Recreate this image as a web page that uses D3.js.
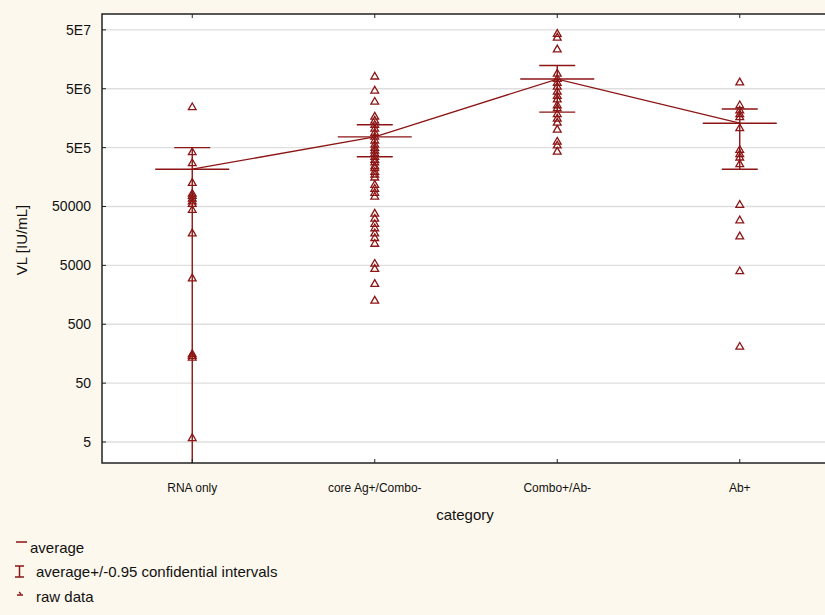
<!DOCTYPE html>
<html>
<head>
<meta charset="utf-8">
<script src="https://cdn.jsdelivr.net/npm/d3@7"></script>
<style>
  body { margin: 0; background: #fdf8ed; }
  text { font-family: "Liberation Sans", Arial, sans-serif; }
</style>
</head>
<body>
<svg width="825" height="615"></svg>
<script>
var categories = ["RNA only", "core Ag+/Combo-", "Combo+/Ab-", "Ab+"];

// raw VL values per category (IU/mL)
var rnaOnly = [2.5e6, 4.3e5, 2.8e5, 1.3e5, 8.5e4, 7.8e4, 7.0e4, 6.3e4, 5.7e4, 4.5e4, 1.8e4, 3100, 160, 150, 140, 6];
var coreAg = [8.3e6, 4.8e6, 3.1e6, 1.73e6, 1.48e6, 1.26e6, 1.08e6, 9.2e5, 7.9e5, 6.8e5, 5.8e5, 5.1e5, 4.6e5,
              4.1e5, 3.6e5, 3.2e5, 2.9e5, 2.5e5, 2.3e5, 2.0e5, 1.8e5, 1.6e5, 1.2e5, 1.03e5, 8.8e4, 7.6e4,
              3.9e4, 3.2e4, 2.6e4, 2.2e4, 1.8e4, 1.5e4, 1.2e4, 5500, 4500, 2500, 1300];
var comboPos = [4.4e7, 3.8e7, 2.4e7, 9.3e6, 7.6e6, 6.5e6, 5.6e6, 4.6e6, 3.9e6, 3.4e6, 2.7e6, 2.4e6,
                1.9e6, 1.6e6, 1.37e6, 1.04e6, 6.5e5, 5.6e5, 4.4e5];
var abPos = [6.6e6, 2.7e6, 2.2e6, 1.9e6, 1.7e6, 1.1e6, 4.7e5, 4.0e5, 3.5e5, 2.7e5, 5.5e4, 3.0e4, 1.6e4, 4100, 214];

var averages = [2.15e5, 7.6e5, 7.3e6, 1.3e6];
var ciHigh = [5.0e5, 1.22e6, 1.24e7, 2.27e6];
var ciLow = [null, 3.5e5, 2.0e6, 2.15e5];   // null: interval reaches below the axis

var yTicks = [5, 50, 500, 5000, 50000, 5e5, 5e6, 5e7];
var yTickLabels = ["5", "50", "500", "5000", "50000", "5E5", "5E6", "5E7"];

var raw = [rnaOnly, coreAg, comboPos, abPos];
var red = "#8c1515";

var svg = d3.select("svg");
var pLeft = 102, pTop = 14, pBottom = 463, pRight = 831;

var x = d3.scaleBand().domain(categories).range([101, 831]);
var y = d3.scaleLog().domain([2.2, 9.3e7]).range([pBottom, pTop]);
function cx(c) { return x(c) + x.bandwidth() / 2; }

svg.append("rect").attr("width", 825).attr("height", 615).attr("fill", "#fdf8ed");

svg.append("defs").append("clipPath").attr("id", "plot")
   .append("rect").attr("x", pLeft).attr("y", pTop).attr("width", pRight - pLeft).attr("height", pBottom - pTop);

svg.append("rect")
   .attr("x", pLeft).attr("y", pTop).attr("width", pRight - pLeft).attr("height", pBottom - pTop)
   .attr("fill", "#fff");

// grid
svg.append("g").selectAll("line").data(yTicks).enter().append("line")
   .attr("x1", pLeft).attr("x2", pRight)
   .attr("y1", function(d) { return y(d); }).attr("y2", function(d) { return y(d); })
   .attr("stroke", "#dedede").attr("stroke-width", 1.3);

var plot = svg.append("g").attr("clip-path", "url(#plot)");

// CI whiskers and averages
categories.forEach(function(c, i) {
  var yHi = y(ciHigh[i]);
  var yLo = ciLow[i] === null ? pBottom + 5 : y(ciLow[i]);
  plot.append("line").attr("x1", cx(c)).attr("x2", cx(c)).attr("y1", yHi).attr("y2", yLo)
      .attr("stroke", red).attr("stroke-width", 1.4);
  plot.append("line").attr("x1", cx(c) - 18).attr("x2", cx(c) + 18).attr("y1", yHi).attr("y2", yHi)
      .attr("stroke", red).attr("stroke-width", 1.4);
  if (ciLow[i] !== null) {
    plot.append("line").attr("x1", cx(c) - 18).attr("x2", cx(c) + 18).attr("y1", yLo).attr("y2", yLo)
        .attr("stroke", red).attr("stroke-width", 1.4);
  }
  plot.append("line").attr("x1", cx(c) - 37).attr("x2", cx(c) + 37)
      .attr("y1", y(averages[i])).attr("y2", y(averages[i]))
      .attr("stroke", red).attr("stroke-width", 1.4);
});

// line through averages
var line = d3.line()
  .x(function(d, i) { return cx(categories[i]); })
  .y(function(d) { return y(d); });
plot.append("path").datum(averages).attr("d", line)
    .attr("fill", "none").attr("stroke", red).attr("stroke-width", 1.3);

// raw data triangles
var tri = d3.symbol().type(d3.symbolTriangle).size(26);
categories.forEach(function(c, i) {
  plot.append("g").selectAll("path").data(raw[i]).enter().append("path")
      .attr("d", tri)
      .attr("transform", function(d) { return "translate(" + cx(c) + "," + (y(d) + 1) + ")"; })
      .attr("fill", "none").attr("stroke", red).attr("stroke-width", 1.3);
});

// frame
svg.append("path")
   .attr("d", "M" + pRight + "," + pTop + "H" + pLeft + "V" + pBottom + "H" + pRight)
   .attr("fill", "none").attr("stroke", "#222").attr("stroke-width", 1.5);

// y ticks + labels
var yAxis = svg.append("g");
yTicks.forEach(function(t, i) {
  yAxis.append("line").attr("x1", pLeft).attr("x2", pLeft + 4).attr("y1", y(t)).attr("y2", y(t))
       .attr("stroke", "#222");
  yAxis.append("text").attr("x", 91).attr("y", y(t) + 5).attr("text-anchor", "end")
       .attr("font-size", 14).attr("fill", "#111").text(yTickLabels[i]);
});

// x ticks + labels
categories.forEach(function(c) {
  svg.append("line").attr("x1", cx(c)).attr("x2", cx(c)).attr("y1", pBottom).attr("y2", pBottom - 4).attr("stroke", "#222");
  svg.append("line").attr("x1", cx(c)).attr("x2", cx(c)).attr("y1", pTop).attr("y2", pTop + 4).attr("stroke", "#222");
  svg.append("text").attr("x", cx(c)).attr("y", 492).attr("text-anchor", "middle")
     .attr("font-size", 12).attr("fill", "#111").text(c);
});

svg.append("text").attr("x", 465).attr("y", 520).attr("text-anchor", "middle")
   .attr("font-size", 15).attr("fill", "#111").text("category");
svg.append("text").attr("transform", "translate(27,240) rotate(-90)").attr("text-anchor", "middle")
   .attr("font-size", 15).attr("fill", "#111").text("VL [IU/mL]");

// legend
var lg = svg.append("g");
lg.append("line").attr("x1", 16).attr("x2", 27).attr("y1", 542).attr("y2", 542).attr("stroke", red).attr("stroke-width", 1.5);
lg.append("text").attr("x", 30).attr("y", 553).attr("font-size", 15).attr("fill", "#111").text("average");
lg.append("path").attr("d", "M15,566H24M19.5,566V577M15,577H24").attr("fill", "none").attr("stroke", red).attr("stroke-width", 1.5);
lg.append("text").attr("x", 36).attr("y", 577).attr("font-size", 15).attr("fill", "#111").text("average+/-0.95 confidential intervals");
lg.append("path").attr("d", "M19,592L21,594M17,595H23").attr("fill", "none").attr("stroke", red).attr("stroke-width", 1.3);
lg.append("text").attr("x", 36).attr("y", 602).attr("font-size", 15).attr("fill", "#111").text("raw data");
</script>
</body>
</html>
